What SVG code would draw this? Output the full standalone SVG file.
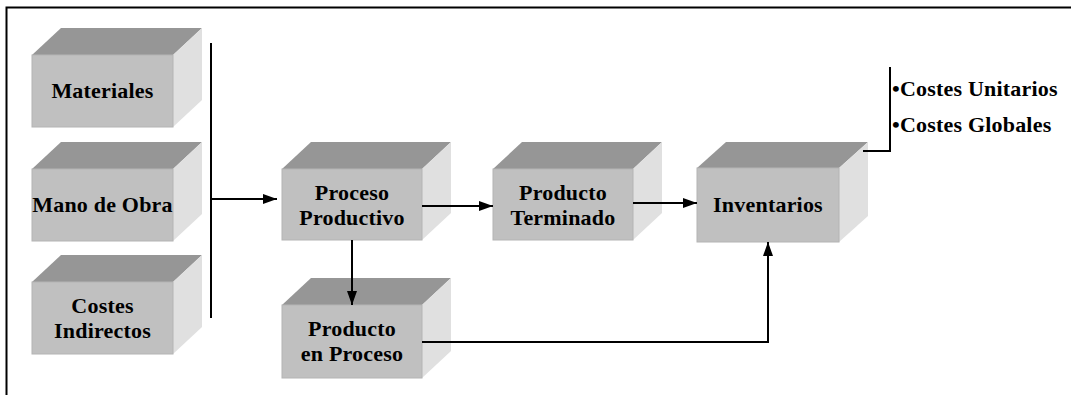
<svg xmlns="http://www.w3.org/2000/svg" width="1071" height="395" viewBox="0 0 1071 395">
<defs>
<style>
.front{fill:#c0c0c0;stroke:#b4b4b4;stroke-width:1}
.top{fill:#969696}
.side{fill:#e0e0e0}
text{font-family:'Liberation Serif','Times New Roman',serif;font-weight:bold;font-size:22px;fill:#000;letter-spacing:0.2px}
.lbl{text-anchor:middle}
.ln{fill:none;stroke:#000;stroke-width:2}
</style>
<marker id="ah" markerWidth="14" markerHeight="10" refX="14" refY="5" orient="auto" markerUnits="userSpaceOnUse">
<path d="M0,0 L14,5 L0,10 Z" fill="#000"/>
</marker>
</defs>
<rect width="1071" height="395" fill="#fff"/>
<path d="M6.5,395 V7.5 H1071" fill="none" stroke="#000" stroke-width="2"/>

<g id="materiales">
<polygon class="top" points="32,55 61,28 202,28 173,55"/>
<polygon class="side" points="173,55 202,28 202,100 173,127"/>
<rect class="front" x="32" y="55" width="141" height="72"/>
<text class="lbl" x="102.5" y="98">Materiales</text>
</g>
<g id="mano-de-obra">
<polygon class="top" points="32,169 61,142 202,142 173,169"/>
<polygon class="side" points="173,169 202,142 202,214 173,241"/>
<rect class="front" x="32" y="169" width="141" height="72"/>
<text class="lbl" x="102.5" y="212">Mano de Obra</text>
</g>
<g id="costes-indirectos">
<polygon class="top" points="32,282 61,255 202,255 173,282"/>
<polygon class="side" points="173,282 202,255 202,327 173,354"/>
<rect class="front" x="32" y="282" width="141" height="72"/>
<text class="lbl" x="102.5" y="313">Costes</text>
<text class="lbl" x="102.5" y="338">Indirectos</text>
</g>
<g id="proceso-productivo">
<polygon class="top" points="282,169 311,142 451,142 422,169"/>
<polygon class="side" points="422,169 451,142 451,213 422,240"/>
<rect class="front" x="282" y="169" width="140" height="71"/>
<text class="lbl" x="352" y="200">Proceso</text>
<text class="lbl" x="352" y="225">Productivo</text>
</g>
<g id="producto-terminado">
<polygon class="top" points="493,169 522,142 662,142 633,169"/>
<polygon class="side" points="633,169 662,142 662,213 633,240"/>
<rect class="front" x="493" y="169" width="140" height="71"/>
<text class="lbl" x="563" y="200">Producto</text>
<text class="lbl" x="563" y="225">Terminado</text>
</g>
<g id="producto-en-proceso">
<polygon class="top" points="282,305 311,278 451,278 422,305"/>
<polygon class="side" points="422,305 451,278 451,351 422,378"/>
<rect class="front" x="282" y="305" width="140" height="73"/>
<text class="lbl" x="352" y="336">Producto</text>
<text class="lbl" x="352" y="361">en Proceso</text>
</g>
<g id="inventarios">
<polygon class="top" points="697,168 726,142 868,142 839,168"/>
<polygon class="side" points="839,168 868,142 868,216 839,242"/>
<rect class="front" x="697" y="168" width="142" height="74"/>
<text class="lbl" x="768" y="212">Inventarios</text>
</g>
<g id="costes-lista">
<text x="892" y="96">•Costes Unitarios</text>
<text x="892" y="132">•Costes Globales</text>
</g>

<g id="connectors">
<path class="ln" d="M211,43 V318"/>
<path class="ln" d="M211,199 H277" marker-end="url(#ah)"/>
<path class="ln" d="M422,206 H493" marker-end="url(#ah)"/>
<path class="ln" d="M352,240 V305" marker-end="url(#ah)"/>
<path class="ln" d="M633,203 H697" marker-end="url(#ah)"/>
<path class="ln" d="M422,342 H768 V242" marker-end="url(#ah)"/>
<path class="ln" d="M863,151 H890 V67"/>
</g>
</svg>
